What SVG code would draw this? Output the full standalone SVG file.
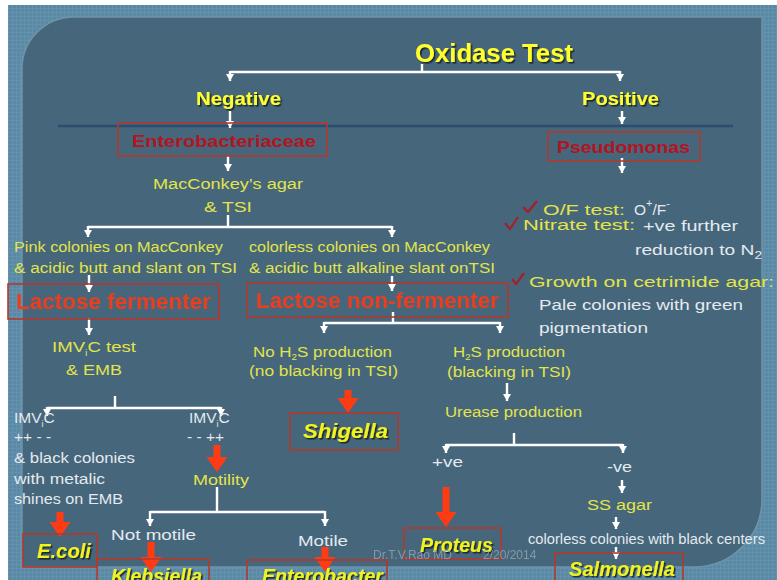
<svg xmlns="http://www.w3.org/2000/svg" width="777" height="580" viewBox="0 0 777 580">
<defs>
<pattern id="tex" width="4" height="4" patternUnits="userSpaceOnUse">
<rect width="4" height="4" fill="#5a89a5"/>
<path d="M0,0.5H4M0.5,0V4" stroke="#6b98b2" stroke-width="1" opacity="0.6"/>
</pattern>
<filter id="sh" x="-10%" y="-20%" width="130%" height="160%">
<feDropShadow dx="1.6" dy="1.6" stdDeviation="0.6" flood-color="#15222c" flood-opacity="0.9"/>
</filter>
<filter id="soft" x="-5%" y="-20%" width="110%" height="140%">
<feGaussianBlur stdDeviation="0.5"/>
</filter>
<marker id="wa" markerWidth="9" markerHeight="9" refX="7" refY="4" orient="auto" markerUnits="userSpaceOnUse">
<path d="M0,0 L7,4 L0,8 Z" fill="#ffffff"/>
</marker>
<marker id="ra" markerWidth="16" markerHeight="22" refX="1" refY="10.5" orient="auto" markerUnits="userSpaceOnUse">
<path d="M0,0 L15,10.5 L0,21 Z" fill="#ff3b14"/>
</marker>
<style>
text{font-family:"Liberation Sans",Arial,sans-serif}
.yl{fill:#e2e44a;font-size:15.5px}
.wt{fill:#e4eaee;font-size:15.5px}
.hd{font-weight:bold;fill:#ffff2e;filter:url(#sh)}
.sp{font-weight:bold;font-style:italic;fill:#f2f21c;filter:url(#sh);font-size:20px}
.lac{font-weight:bold;fill:#ec3c1e;font-size:22px;filter:url(#soft)}
.dr{font-weight:bold;fill:#b3141e;font-size:17px}
.rb{fill:none;stroke:#b5392c;stroke-width:1.6}
.con{stroke:#ffffff;stroke-width:2.4;fill:none}
.arr{marker-end:url(#wa)}
.red{stroke:#ff3b14;stroke-width:7;fill:none;marker-end:url(#ra)}
.chk{fill:none;stroke:#a3202a;stroke-width:2.2}
</style>
</defs>

<rect width="777" height="580" fill="url(#tex)"/>
<rect width="777" height="5" fill="#ffffff"/>
<rect width="8" height="580" fill="#ffffff"/>
<path d="M22,70 A52,52 0 0 1 74,17 L762,17 L762,499 A68,68 0 0 1 694,567 L22,567 Z" fill="#46667c" stroke="#6e93aa" stroke-width="1.5"/>
<line x1="58" y1="126" x2="733" y2="126" stroke="#2a4d70" stroke-width="2.5"/>

<g id="connectors">
<path class="con" d="M422,64V72M230,72H620"/>
<line class="con arr" x1="230" y1="71" x2="230" y2="81"/>
<line class="con arr" x1="620" y1="71" x2="620" y2="81"/>
<line class="con arr" x1="230" y1="111" x2="230" y2="128"/>
<line class="con arr" x1="622" y1="111" x2="622" y2="124"/>
<line class="con arr" x1="228" y1="156" x2="228" y2="171"/>
<line class="con arr" x1="622" y1="158" x2="622" y2="173"/>
<path class="con" d="M228,215V227M88,227H392"/>
<line class="con arr" x1="88" y1="226" x2="88" y2="237"/>
<line class="con arr" x1="392" y1="226" x2="392" y2="237"/>
<line class="con arr" x1="89" y1="275" x2="89" y2="292"/>
<line class="con arr" x1="392" y1="276" x2="392" y2="291"/>
<line class="con arr" x1="89" y1="318" x2="89" y2="335"/>
<path class="con" d="M393,312V323M324,323H500"/>
<line class="con arr" x1="324" y1="322" x2="324" y2="333"/>
<line class="con arr" x1="500" y1="322" x2="500" y2="333"/>
<path class="con" d="M115,396V408M47,408H221"/>
<line class="con arr" x1="47" y1="407" x2="47" y2="416"/>
<line class="con arr" x1="221" y1="407" x2="221" y2="416"/>
<path class="con" d="M217,487V512M150,512H325"/>
<line class="con arr" x1="150" y1="511" x2="150" y2="526"/>
<line class="con arr" x1="325" y1="511" x2="325" y2="526"/>
<line class="con arr" x1="507" y1="383" x2="507" y2="401"/>
<path class="con" d="M514,433V445M446,445H623"/>
<line class="con arr" x1="446" y1="444" x2="446" y2="453"/>
<line class="con arr" x1="623" y1="444" x2="623" y2="453"/>
<line class="con arr" x1="622" y1="480" x2="622" y2="493"/>
<line class="con arr" x1="616" y1="517" x2="616" y2="529"/>
<line class="con arr" x1="616" y1="547" x2="616" y2="559"/>
<line class="red" x1="217" y1="445" x2="217" y2="458"/>
<line class="red" x1="60" y1="512" x2="60" y2="523"/>
<line class="red" x1="151" y1="542" x2="151" y2="558"/>
<line class="red" x1="325" y1="547" x2="325" y2="558"/>
<line class="red" x1="348" y1="390" x2="348" y2="399"/>
<line class="red" x1="446" y1="487" x2="446" y2="513"/>
</g>

<g id="oxidase"><text class="hd" x="415" y="62" font-size="26" textLength="158" lengthAdjust="spacingAndGlyphs">Oxidase Test</text></g>
<g id="negative"><text class="hd" x="196" y="105" font-size="19" textLength="85" lengthAdjust="spacingAndGlyphs">Negative</text></g>
<g id="positive"><text class="hd" x="582" y="105" font-size="19" textLength="77" lengthAdjust="spacingAndGlyphs">Positive</text></g>

<g id="enterobacteriaceae">
<rect class="rb" x="118" y="123" width="209" height="33"/>
<text class="dr" x="132" y="147" textLength="184" lengthAdjust="spacingAndGlyphs">Enterobacteriaceae</text>
</g>
<g id="pseudomonas">
<rect class="rb" x="548" y="132" width="152" height="29"/>
<text class="dr" x="557" y="153" textLength="133" lengthAdjust="spacingAndGlyphs">Pseudomonas</text>
</g>

<g id="pseudomonas-tests">
<path class="chk" d="M523,207 L528,212 L537,201"/>
<path class="chk" d="M505,223 L510,229 L518,217"/>
<path class="chk" d="M512,279 L516,284 L524,273"/>
<text class="yl" x="543" y="215" font-size="19" textLength="82" lengthAdjust="spacingAndGlyphs">O/F test:</text>
<text class="wt" x="634" y="215" font-size="19">O<tspan font-size="11" dy="-8">+</tspan><tspan dy="8">/F</tspan><tspan font-size="11" dy="-8">-</tspan></text>
<text class="yl" x="523" y="230" font-size="19" textLength="112" lengthAdjust="spacingAndGlyphs">Nitrate test:</text>
<text class="wt" x="643" y="231" font-size="16.5" textLength="95" lengthAdjust="spacingAndGlyphs">+ve further</text>
<text class="wt" x="635" y="255" font-size="17" textLength="127" lengthAdjust="spacingAndGlyphs">reduction to N<tspan font-size="11" dy="4">2</tspan></text>
<text class="yl" x="529" y="287" font-size="19.5" textLength="245" lengthAdjust="spacingAndGlyphs">Growth on cetrimide agar:</text>
<text class="wt" x="539" y="310" font-size="16.5" textLength="204" lengthAdjust="spacingAndGlyphs">Pale colonies with green</text>
<text class="wt" x="539" y="333" font-size="16.5" textLength="109" lengthAdjust="spacingAndGlyphs">pigmentation</text>
</g>

<g id="macconkey">
<text class="yl" x="153" y="189" font-size="16.5" textLength="150" lengthAdjust="spacingAndGlyphs">MacConkey’s agar</text>
<text class="yl" x="204" y="212" font-size="16.5" textLength="48" lengthAdjust="spacingAndGlyphs">&amp; TSI</text>
</g>

<g id="pink-colonies">
<text class="yl" x="14" y="252" textLength="209" lengthAdjust="spacingAndGlyphs">Pink colonies on MacConkey</text>
<text class="yl" x="14" y="273" textLength="223" lengthAdjust="spacingAndGlyphs">&amp; acidic butt and slant on TSI</text>
</g>
<g id="colorless-colonies">
<text class="yl" x="249" y="252" textLength="241" lengthAdjust="spacingAndGlyphs">colorless colonies on MacConkey</text>
<text class="yl" x="249" y="273" textLength="246" lengthAdjust="spacingAndGlyphs">&amp; acidic butt alkaline slant onTSI</text>
</g>

<g id="lactose-fermenter">
<rect class="rb" x="8" y="284" width="211" height="35"/>
<text class="lac" x="16" y="309" textLength="195" lengthAdjust="spacingAndGlyphs">Lactose fermenter</text>
</g>
<g id="lactose-non-fermenter">
<rect class="rb" x="247" y="283" width="261" height="34"/>
<text class="lac" x="256" y="308" textLength="243" lengthAdjust="spacingAndGlyphs">Lactose non-fermenter</text>
</g>

<g id="imvic-test">
<text class="yl" x="52" y="352" font-size="17" textLength="84" lengthAdjust="spacingAndGlyphs">IMV<tspan font-size="9" dy="4">i</tspan><tspan dy="-4">C test</tspan></text>
<text class="yl" x="66" y="375" font-size="17" textLength="56" lengthAdjust="spacingAndGlyphs">&amp; EMB</text>
</g>

<g id="imvic-pp">
<text class="wt" x="14" y="423">IMV<tspan font-size="9" dy="4">i</tspan><tspan dy="-4">C</tspan></text>
<text class="wt" x="14" y="442">++ - -</text>
<text class="wt" x="14" y="463" textLength="121" lengthAdjust="spacingAndGlyphs">&amp; black colonies</text>
<text class="wt" x="14" y="484" textLength="91" lengthAdjust="spacingAndGlyphs">with metalic</text>
<text class="wt" x="14" y="504" textLength="109" lengthAdjust="spacingAndGlyphs">shines on EMB</text>
</g>
<g id="imvic-mm">
<text class="wt" x="189" y="423">IMV<tspan font-size="9" dy="4">i</tspan><tspan dy="-4">C</tspan></text>
<text class="wt" x="187" y="442">- - ++</text>
</g>
<g id="motility"><text class="yl" x="193" y="485" font-size="17" textLength="56" lengthAdjust="spacingAndGlyphs">Motility</text></g>
<g id="not-motile"><text class="wt" x="111" y="540" font-size="17" textLength="85" lengthAdjust="spacingAndGlyphs">Not motile</text></g>
<g id="motile"><text class="wt" x="298" y="546" font-size="17" textLength="50" lengthAdjust="spacingAndGlyphs">Motile</text></g>

<g id="ecoli">
<rect class="rb" x="23" y="534" width="74" height="33"/>
<text class="sp" x="37" y="558" textLength="54" lengthAdjust="spacingAndGlyphs">E.coli</text>
</g>
<g id="klebsiella">
<rect class="rb" x="97" y="559" width="112" height="30"/>
<text class="sp" x="111" y="583" textLength="91" lengthAdjust="spacingAndGlyphs">Klebsiella</text>
</g>
<g id="enterobacter">
<rect class="rb" x="247" y="560" width="140" height="30"/>
<text class="sp" x="262" y="583" textLength="121" lengthAdjust="spacingAndGlyphs">Enterobacter</text>
</g>

<g id="no-h2s">
<text class="yl" x="253" y="357" font-size="16" textLength="139" lengthAdjust="spacingAndGlyphs">No H<tspan font-size="9" dy="3">2</tspan><tspan dy="-3">S production</tspan></text>
<text class="yl" x="249" y="376" textLength="149" lengthAdjust="spacingAndGlyphs">(no blacking in TSI)</text>
</g>
<g id="shigella">
<rect class="rb" x="290" y="413" width="108" height="37"/>
<text class="sp" x="303" y="438" textLength="85" lengthAdjust="spacingAndGlyphs">Shigella</text>
</g>

<g id="h2s">
<text class="yl" x="453" y="357" font-size="16" textLength="112" lengthAdjust="spacingAndGlyphs">H<tspan font-size="9" dy="3">2</tspan><tspan dy="-3">S production</tspan></text>
<text class="yl" x="447" y="377" textLength="124" lengthAdjust="spacingAndGlyphs">(blacking in TSI)</text>
</g>
<g id="urease"><text class="yl" x="445" y="417" textLength="137" lengthAdjust="spacingAndGlyphs">Urease production</text></g>
<g id="pos-ve"><text class="wt" x="432" y="467" font-size="17" textLength="31" lengthAdjust="spacingAndGlyphs">+ve</text></g>
<g id="neg-ve"><text class="wt" x="607" y="472" font-size="17" textLength="25" lengthAdjust="spacingAndGlyphs">-ve</text></g>
<g id="ss-agar"><text class="yl" x="587" y="510" font-size="17" textLength="65" lengthAdjust="spacingAndGlyphs">SS agar</text></g>
<g id="colorless-black"><text class="wt" x="528" y="544" font-size="13.5" textLength="237" lengthAdjust="spacingAndGlyphs">colorless colonies with black centers</text></g>

<g id="proteus">
<rect class="rb" x="404" y="528" width="97" height="31"/>
<text class="sp" x="420" y="552" textLength="73" lengthAdjust="spacingAndGlyphs">Proteus</text>
</g>
<g id="salmonella">
<rect class="rb" x="555" y="553" width="128" height="35"/>
<text class="sp" x="569" y="576" textLength="106" lengthAdjust="spacingAndGlyphs">Salmonella</text>
</g>

<g id="watermark"><text x="373" y="559" font-size="12" fill="#8fa2ad" opacity="0.85">Dr.T.V.Rao MD<tspan x="483">2/20/2014</tspan></text></g>
</svg>
